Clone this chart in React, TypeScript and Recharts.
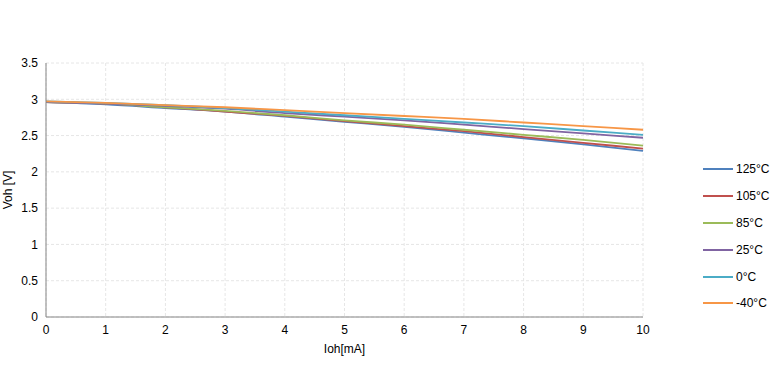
import React from "react";
import { LineChart, Line, XAxis, YAxis, CartesianGrid } from "recharts";

const currents = [0, 1, 2, 3, 4, 5, 6, 7, 8, 9, 10];
const v125 = [2.96, 2.93, 2.88, 2.83, 2.76, 2.69, 2.62, 2.54, 2.46, 2.38, 2.29];
const v105 = [2.96, 2.94, 2.89, 2.83, 2.77, 2.7, 2.63, 2.56, 2.48, 2.4, 2.32];
const v85 = [2.96, 2.94, 2.89, 2.84, 2.78, 2.71, 2.65, 2.58, 2.51, 2.44, 2.36];
const v25 = [2.96, 2.94, 2.91, 2.87, 2.81, 2.76, 2.71, 2.65, 2.59, 2.53, 2.47];
const v0 = [2.97, 2.95, 2.92, 2.88, 2.83, 2.78, 2.73, 2.68, 2.63, 2.57, 2.51];
const vm40 = [2.97, 2.95, 2.92, 2.89, 2.85, 2.81, 2.77, 2.73, 2.68, 2.63, 2.58];

const xTicks = [0, 1, 2, 3, 4, 5, 6, 7, 8, 9, 10];
const yTicks = [0, 0.5, 1, 1.5, 2, 2.5, 3, 3.5];

const series = [
  { key: "t125", name: "125°C", color: "#4F81BD", values: v125 },
  { key: "t105", name: "105°C", color: "#C0504D", values: v105 },
  { key: "t85", name: "85°C", color: "#9BBB59", values: v85 },
  { key: "t25", name: "25°C", color: "#8064A2", values: v25 },
  { key: "t0", name: "0°C", color: "#4BACC6", values: v0 },
  { key: "tm40", name: "-40°C", color: "#F79646", values: vm40 },
];

const data = currents.map((x, i) => {
  const row: Record<string, number> = { x };
  series.forEach((s) => {
    row[s.key] = s.values[i];
  });
  return row;
});

const FONT = "'Liberation Sans', Arial, sans-serif";

export default function App() {
  return (
    <div style={{ position: "absolute", left: 0, top: 0, width: 770, height: 376, background: "#fff", overflow: "hidden" }}>
      <LineChart width={770} height={376} data={data} margin={{ top: 63, right: 127, bottom: 19, left: 20 }}>
        <CartesianGrid stroke="#e6e6e6" strokeDasharray="3 2" />
        <XAxis
          dataKey="x"
          type="number"
          domain={[0, 10]}
          ticks={xTicks}
          tickLine={false}
          axisLine={{ stroke: "#868686" }}
          tick={{ fill: "#000", fontSize: 12, fontFamily: FONT }}
          height={40}
          label={{ value: "Ioh[mA]", position: "insideBottom", offset: 4, fill: "#000", fontSize: 12, fontFamily: FONT }}
        />
        <YAxis
          type="number"
          domain={[0, 3.5]}
          ticks={yTicks}
          tickLine={false}
          axisLine={{ stroke: "#868686" }}
          tick={{ fill: "#000", fontSize: 12, fontFamily: FONT }}
          width={26}
          label={{ value: "Voh [V]", angle: -90, position: "insideLeft", offset: -12, style: { textAnchor: "middle" }, fill: "#000", fontSize: 12, fontFamily: FONT }}
        />
        {series.map((s) => (
          <Line
            key={s.key}
            dataKey={s.key}
            name={s.name}
            stroke={s.color}
            strokeWidth={1.8}
            dot={false}
            type="monotone"
            isAnimationActive={false}
          />
        ))}
      </LineChart>
      <div style={{ position: "absolute", left: 703, top: 156, fontFamily: FONT, fontSize: 12, color: "#000" }}>
        {series.map((s) => (
          <div key={s.key} style={{ display: "flex", alignItems: "center", height: 26.8, whiteSpace: "nowrap" }}>
            <div style={{ width: 30, height: 2, background: s.color, marginRight: 3 }} />
            <span>{s.name}</span>
          </div>
        ))}
      </div>
    </div>
  );
}
